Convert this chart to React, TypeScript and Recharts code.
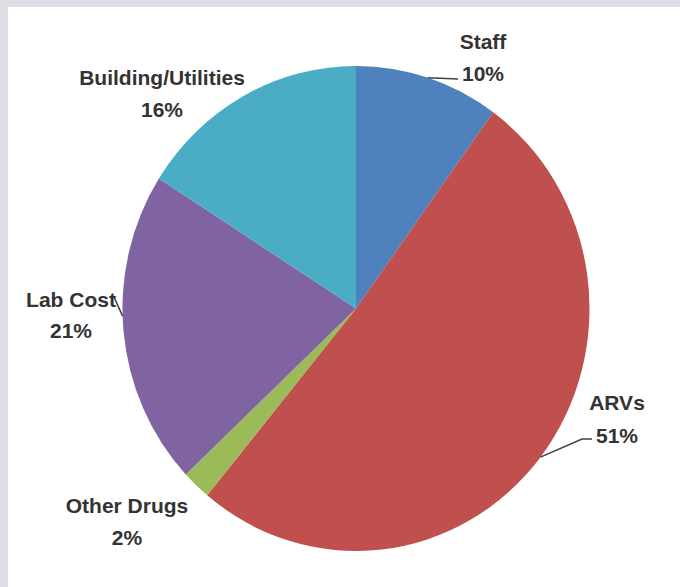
import { Cell, Pie, PieChart } from 'recharts';

// cost categories, clockwise from 12 o'clock
const categories = ['Staff', 'ARVs', 'Other Drugs', 'Lab Cost', 'Building/Utilities'];
const shares = [10, 51, 2, 21, 16];
const colors = ['#4F81BD', '#C0504D', '#9BBB59', '#8064A2', '#4BACC6'];

const data = categories.map((name, i) => ({ name, value: shares[i] }));

const CX = 356;
const CY = 308.5;
const RADIUS = 233.5;
const STRETCH = 242.5 / 233.5; // the original pie is a little taller than wide
const RAD = Math.PI / 180;

const FONT = '"Liberation Sans", Arial, sans-serif';
const TEXT = '#333333';

// label placement relative to the pie centre (baseline of first line)
const labelLayout: Record<string, any> = {
  Staff: { dx: 127, dy: -259.5, gap: 32, leader: [[102, -229.5]] },
  ARVs: { dx: 261, dy: 101.5, gap: 33, leader: [[226, 130.5], [236, 130.5]] },
  'Other Drugs': { dx: -229, dy: 204.5, gap: 32 },
  'Lab Cost': { dx: -285, dy: -1.5, gap: 30.5, leader: [[-242, -11.5]], anchor: 181.8 },
  'Building/Utilities': { dx: -194, dy: -223.5, gap: 32 },
};

const onEllipse = (cx: number, cy: number, r: number, angle: number) => [
  cx + r * Math.cos(-angle * RAD),
  cy + r * STRETCH * Math.sin(-angle * RAD),
];

const EllipseSector = (props: any) => {
  const { cx, cy, outerRadius, startAngle, endAngle, fill } = props;
  const [x0, y0] = onEllipse(cx, cy, outerRadius, startAngle);
  const [x1, y1] = onEllipse(cx, cy, outerRadius, endAngle);
  const large = Math.abs(endAngle - startAngle) > 180 ? 1 : 0;
  const sweep = startAngle > endAngle ? 1 : 0;
  const d = `M${cx},${cy} L${x0},${y0} A${outerRadius},${outerRadius * STRETCH} 0 ${large} ${sweep} ${x1},${y1} Z`;
  return <path d={d} fill={fill} stroke="none" />;
};

const renderLabel = (props: any) => {
  const { cx, cy, midAngle, outerRadius, index } = props;
  const name = categories[index];
  const lay = labelLayout[name];
  const x = cx + lay.dx;
  const y = cy + lay.dy;
  let line = null;
  if (lay.leader) {
    const [ax, ay] = onEllipse(cx, cy, outerRadius, lay.anchor ?? midAngle);
    const pts = [[ax, ay], ...lay.leader.map(([px, py]: number[]) => [cx + px, cy + py])];
    line = (
      <polyline
        points={pts.map((p) => p.join(',')).join(' ')}
        fill="none"
        stroke="#404040"
        strokeWidth={1.5}
      />
    );
  }
  return (
    <g>
      {line}
      <text x={x} y={y} textAnchor="middle" fontFamily={FONT} fontWeight="bold" fontSize={21} fill={TEXT}>
        {name}
      </text>
      <text x={x} y={y + lay.gap} textAnchor="middle" fontFamily={FONT} fontWeight="bold" fontSize={21} fill={TEXT}>
        {shares[index]}%
      </text>
    </g>
  );
};

export default function App() {
  return (
    <div
      style={{
        position: 'fixed',
        left: 0,
        top: 0,
        width: 680,
        height: 587,
        background: '#dddde6',
        overflow: 'hidden',
      }}
    >
      <div style={{ position: 'absolute', left: 8, top: 7, right: 0, bottom: 0, background: '#ffffff' }} />
      <div style={{ position: 'absolute', left: 0, top: 0 }}>
        <PieChart width={680} height={587} margin={{ top: 0, right: 0, bottom: 0, left: 0 }}>
          <Pie
            data={data}
            dataKey="value"
            nameKey="name"
            cx={CX}
            cy={CY}
            outerRadius={RADIUS}
            startAngle={90}
            endAngle={-270}
            stroke="none"
            label={renderLabel}
            labelLine={false}
            shape={EllipseSector}
            activeShape={EllipseSector}
            isAnimationActive={false}
          >
            {data.map((d, i) => (
              <Cell key={d.name} fill={colors[i]} />
            ))}
          </Pie>
        </PieChart>
      </div>
    </div>
  );
}
